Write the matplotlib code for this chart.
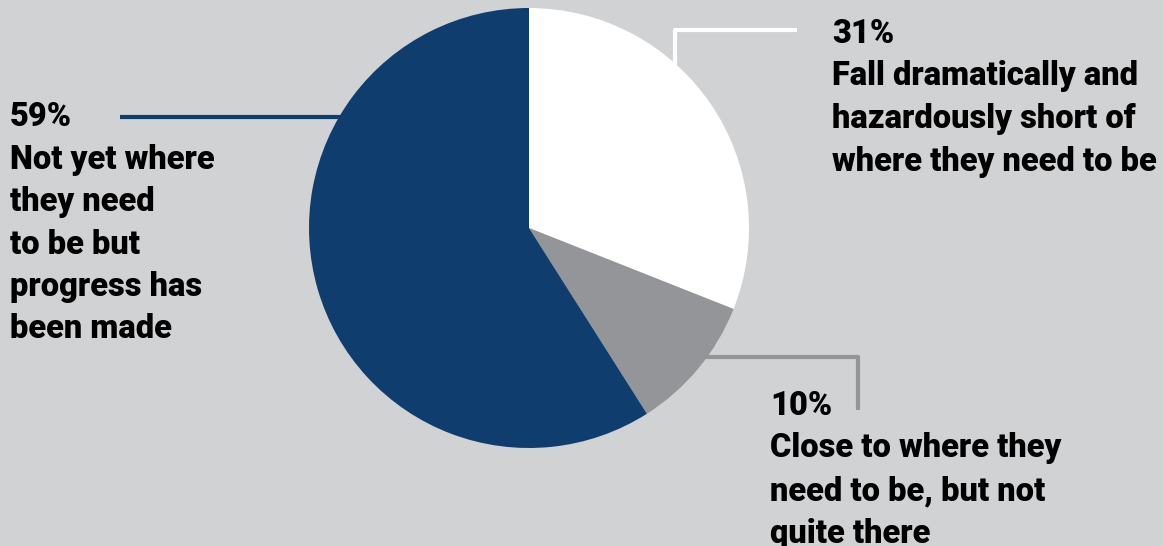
import matplotlib
matplotlib.use('Agg')
import matplotlib.pyplot as plt

# slice data, clockwise from 12 o'clock
shares = [31, 10, 59]
slice_colors = ['#ffffff', '#939598', '#0e3d6e']

pct_labels = ['31%', '10%', '59%']
desc_labels = [
    ['Fall dramatically and', 'hazardously short of', 'where they need to be'],
    ['Close to where they', 'need to be, but not', 'quite there'],
    ['Not yet where', 'they need', 'to be but', 'progress has', 'been made'],
]

W, H = 1163, 546
bg = '#d1d2d4'

fig = plt.figure(figsize=(W / 100, H / 100), dpi=100, facecolor=bg)
ax = fig.add_axes([0, 0, 1, 1])

cx, cy, r = 529, H - 228, 220
ax.pie(shares, colors=slice_colors, startangle=90, counterclock=False,
       center=(cx, cy), radius=r, frame=True,
       wedgeprops=dict(linewidth=0))
ax.set_xlim(0, W)
ax.set_ylim(0, H)
ax.set_facecolor(bg)
ax.axis('off')

# leader lines (image coords -> flip y)
def seg(xs, ys, c):
    ax.plot(xs, [H - v for v in ys], color=c, lw=3, solid_capstyle='butt', zorder=1)

seg([675, 675, 797], [70, 30, 30], '#ffffff')
seg([700, 858, 858], [357, 357, 410], '#939598')
seg([120, 345], [117, 117], '#0e3d6e')

font = dict(family='Roboto', weight='heavy', size=23.5, color='#000000')
step = 42.5

def block(x, y0, pct, lines):
    ax.text(x, H - y0, pct, ha='left', va='baseline', **font)
    for i, ln in enumerate(lines):
        ax.text(x, H - (y0 + step * (i + 1)), ln, ha='left', va='baseline', **font)

block(832, 43, pct_labels[0], desc_labels[0])
block(770, 415, pct_labels[1], desc_labels[1])
block(10, 126, pct_labels[2], desc_labels[2])

fig.savefig('out.png', dpi=100, facecolor=bg)
